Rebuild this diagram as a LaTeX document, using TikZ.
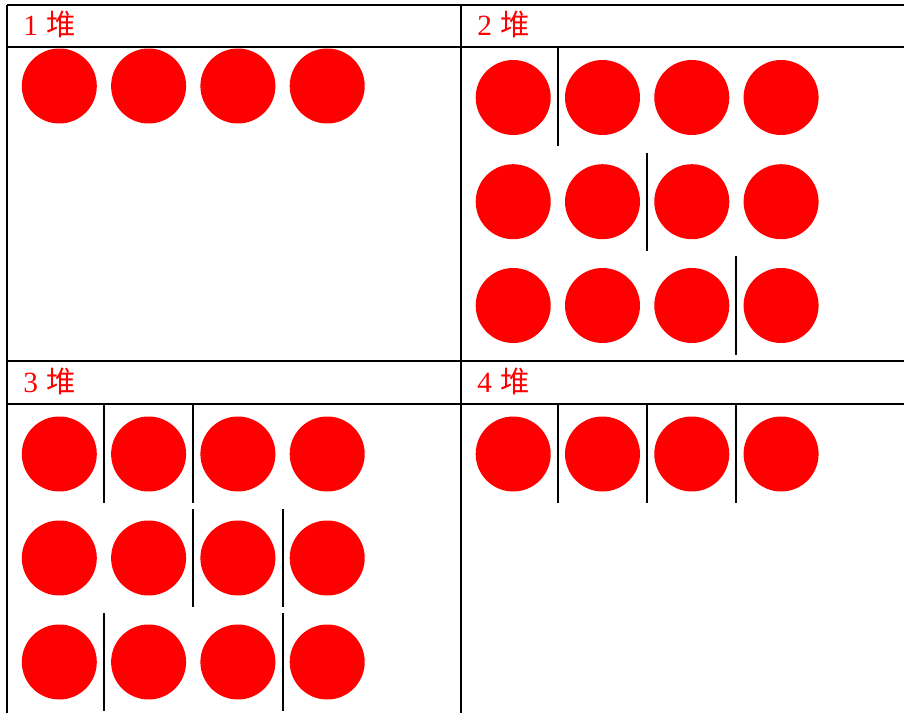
\documentclass[tikz,border=0pt]{standalone}
\usepackage{fontspec}
\setmainfont{Liberation Serif}
\newfontfamily\cjk{Noto Sans CJK SC}

\tikzset{
  grid/.style={line width=1.5pt},
  bar/.style={line width=1.5pt},
  dot/.style={fill=red},
  heap/.style={anchor=base west, inner sep=0pt, text=red,
    font=\fontsize{22}{24}\selectfont}
}

\begin{document}
\begin{tikzpicture}[x=0.75pt,y=-0.75pt]
        \useasboundingbox (0,0) rectangle (904,713);
        % one circle: radius, step from one centre to the next
        \def\r{37.5}
        \def\dx{89.3}

        % Table lines
        \draw[grid] (7,5) -- (904,5);
        \draw[grid] (7,47) -- (904,47);
        \draw[grid] (7,361) -- (904,361);
        \draw[grid] (7,404) -- (904,404);
        \draw[grid] (7,5) -- (7,713);
        \draw[grid] (461,5) -- (461,713);

        % Headings
        \node[heap] (h1) at (23,36) {1\hspace{0.3em}{\cjk 堆}};
        \node[heap] (h2) at (477,36) {2\hspace{0.3em}{\cjk 堆}};
        \node[heap] (h3) at (23,392) {3\hspace{0.3em}{\cjk 堆}};
        \node[heap] (h4) at (477,392) {4\hspace{0.3em}{\cjk 堆}};

        % 1 heap: one row, no bars
        \foreach \i in {0,...,3}
          \fill[dot] (59.3+\i*\dx,86) circle (\r);

        % 2 heaps: three rows, bar after circle 1, 2, 3
        \foreach \y/\g in {97.5/1, 201.7/2, 305.5/3} {
          \foreach \i in {0,...,3}
            \fill[dot] (513.2+\i*\dx,\y) circle (\r);
          \draw[bar] (513.2+\g*\dx-\dx/2,\y-49) -- (513.2+\g*\dx-\dx/2,\y+49);
        }

        % 3 heaps: three rows, two bars each
        \foreach \y/\ga/\gb in {454/1/2, 558/2/3, 662/1/3} {
          \foreach \i in {0,...,3}
            \fill[dot] (59.3+\i*\dx,\y) circle (\r);
          \draw[bar] (59.3+\ga*\dx-\dx/2,\y-49) -- (59.3+\ga*\dx-\dx/2,\y+49);
          \draw[bar] (59.3+\gb*\dx-\dx/2,\y-49) -- (59.3+\gb*\dx-\dx/2,\y+49);
        }

        % 4 heaps: one row, bar between every circle
        \foreach \i in {0,...,3}
          \fill[dot] (513.2+\i*\dx,454) circle (\r);
        \foreach \g in {1,2,3}
          \draw[bar] (513.2+\g*\dx-\dx/2,405) -- (513.2+\g*\dx-\dx/2,503);
\end{tikzpicture}
\end{document}
